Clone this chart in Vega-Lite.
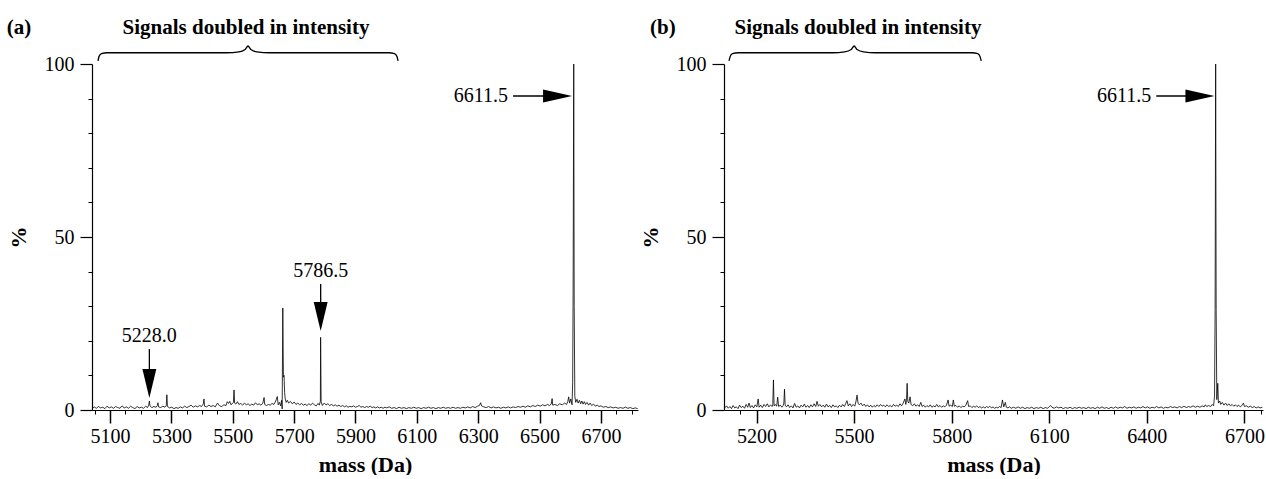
{
  "$schema": "https://vega.github.io/schema/vega-lite/v6.json",
  "padding": {"left": 6, "top": 16, "right": 0, "bottom": 0},
  "bounds": "flush",
  "spacing": 86,
  "config": {
    "font": "'Liberation Serif', 'Times New Roman', serif",
    "view": {"stroke": null},
    "text": {"font": "'Liberation Serif', 'Times New Roman', serif"},
    "axis": {"grid": false, "domainColor": "black", "tickColor": "black", "labelColor": "black", "titleColor": "black", "labelFont": "'Liberation Serif', 'Times New Roman', serif", "titleFont": "'Liberation Serif', 'Times New Roman', serif"}
  },
  "datasets": {
    "specA": [
      {"m":5041,"i":0.4},{"m":5048,"i":0.9},{"m":5055,"i":0.5},{"m":5062,"i":1.0},{"m":5069,"i":0.6},{"m":5076,"i":0.8},{"m":5083,"i":0.4},{"m":5090,"i":1.1},{"m":5097,"i":0.6},{"m":5104,"i":0.9},{"m":5111,"i":0.5},{"m":5118,"i":1.0},{"m":5125,"i":0.7},{"m":5132,"i":0.5},{"m":5139,"i":1.2},{"m":5146,"i":0.6},{"m":5153,"i":0.9},{"m":5160,"i":0.5},{"m":5167,"i":1.1},{"m":5174,"i":0.7},{"m":5181,"i":0.4},{"m":5188,"i":1.0},{"m":5195,"i":0.6},{"m":5202,"i":0.8},{"m":5209,"i":0.5},{"m":5216,"i":1.1},{"m":5222,"i":0.7},{"m":5226,"i":1.4},{"m":5228,"i":2.6},{"m":5230,"i":1.2},{"m":5236,"i":0.7},{"m":5243,"i":1.0},{"m":5250,"i":0.8},{"m":5254,"i":1.3},{"m":5256,"i":2.1},{"m":5258,"i":0.9},{"m":5265,"i":0.7},{"m":5272,"i":1.1},{"m":5279,"i":0.8},{"m":5283,"i":1.2},{"m":5285,"i":4.4},{"m":5287,"i":1.0},{"m":5294,"i":0.6},{"m":5301,"i":0.8},{"m":5308,"i":0.4},{"m":5315,"i":0.7},{"m":5322,"i":0.5},{"m":5329,"i":0.9},{"m":5336,"i":0.6},{"m":5343,"i":1.1},{"m":5350,"i":0.7},{"m":5357,"i":1.0},{"m":5364,"i":1.4},{"m":5371,"i":0.8},{"m":5378,"i":1.2},{"m":5385,"i":0.9},{"m":5392,"i":1.3},{"m":5398,"i":1.0},{"m":5404,"i":1.8},{"m":5406,"i":3.2},{"m":5408,"i":1.1},{"m":5415,"i":0.9},{"m":5422,"i":1.4},{"m":5429,"i":1.0},{"m":5436,"i":1.3},{"m":5443,"i":0.9},{"m":5450,"i":2.0},{"m":5457,"i":1.2},{"m":5464,"i":1.0},{"m":5471,"i":1.5},{"m":5478,"i":1.3},{"m":5482,"i":2.4},{"m":5486,"i":1.9},{"m":5490,"i":2.5},{"m":5494,"i":1.5},{"m":5498,"i":1.8},{"m":5502,"i":2.2},{"m":5504,"i":5.8},{"m":5506,"i":2.0},{"m":5510,"i":1.7},{"m":5515,"i":2.4},{"m":5520,"i":1.6},{"m":5526,"i":1.9},{"m":5532,"i":1.4},{"m":5538,"i":2.0},{"m":5544,"i":1.5},{"m":5550,"i":1.8},{"m":5556,"i":1.3},{"m":5562,"i":1.7},{"m":5568,"i":1.4},{"m":5574,"i":2.1},{"m":5580,"i":1.5},{"m":5586,"i":1.8},{"m":5592,"i":1.4},{"m":5598,"i":2.0},{"m":5602,"i":3.6},{"m":5604,"i":1.6},{"m":5610,"i":1.3},{"m":5616,"i":1.6},{"m":5622,"i":1.4},{"m":5628,"i":1.9},{"m":5634,"i":1.6},{"m":5640,"i":2.6},{"m":5645,"i":3.9},{"m":5648,"i":1.5},{"m":5652,"i":2.2},{"m":5656,"i":1.2},{"m":5659,"i":2.8},{"m":5661,"i":0.3},{"m":5663,"i":29.5},{"m":5665,"i":9.5},{"m":5667,"i":10.0},{"m":5669,"i":5.0},{"m":5671,"i":3.2},{"m":5674,"i":2.2},{"m":5678,"i":2.8},{"m":5682,"i":2.0},{"m":5688,"i":2.5},{"m":5694,"i":1.8},{"m":5700,"i":2.3},{"m":5706,"i":1.6},{"m":5712,"i":2.0},{"m":5718,"i":1.5},{"m":5724,"i":1.9},{"m":5730,"i":1.4},{"m":5736,"i":1.7},{"m":5742,"i":1.3},{"m":5748,"i":1.8},{"m":5754,"i":1.4},{"m":5760,"i":2.0},{"m":5766,"i":1.5},{"m":5772,"i":1.2},{"m":5778,"i":1.9},{"m":5782,"i":1.4},{"m":5785.5,"i":2.5},{"m":5786.3,"i":21.0},{"m":5786.8,"i":16.0},{"m":5788,"i":2.4},{"m":5792,"i":1.3},{"m":5798,"i":2.0},{"m":5804,"i":1.5},{"m":5810,"i":1.8},{"m":5816,"i":1.3},{"m":5822,"i":1.6},{"m":5828,"i":1.2},{"m":5834,"i":1.5},{"m":5840,"i":1.1},{"m":5846,"i":1.4},{"m":5852,"i":1.0},{"m":5858,"i":1.3},{"m":5864,"i":0.9},{"m":5870,"i":1.2},{"m":5876,"i":0.8},{"m":5882,"i":1.1},{"m":5888,"i":0.9},{"m":5894,"i":1.2},{"m":5900,"i":0.8},{"m":5906,"i":1.0},{"m":5912,"i":1.3},{"m":5918,"i":0.8},{"m":5924,"i":1.0},{"m":5930,"i":0.7},{"m":5936,"i":1.0},{"m":5942,"i":0.8},{"m":5948,"i":1.1},{"m":5954,"i":0.7},{"m":5960,"i":0.9},{"m":5966,"i":0.6},{"m":5972,"i":0.9},{"m":5978,"i":0.6},{"m":5984,"i":0.8},{"m":5990,"i":0.5},{"m":5996,"i":0.8},{"m":6002,"i":0.6},{"m":6010,"i":0.9},{"m":6018,"i":0.5},{"m":6026,"i":0.7},{"m":6034,"i":0.4},{"m":6042,"i":0.8},{"m":6050,"i":0.5},{"m":6058,"i":0.7},{"m":6066,"i":0.4},{"m":6074,"i":0.7},{"m":6082,"i":0.5},{"m":6090,"i":0.8},{"m":6098,"i":0.5},{"m":6106,"i":0.7},{"m":6114,"i":0.4},{"m":6122,"i":0.7},{"m":6130,"i":0.5},{"m":6138,"i":0.8},{"m":6146,"i":0.5},{"m":6154,"i":0.7},{"m":6162,"i":0.4},{"m":6170,"i":0.7},{"m":6178,"i":0.5},{"m":6186,"i":0.8},{"m":6194,"i":0.5},{"m":6202,"i":0.7},{"m":6210,"i":0.5},{"m":6218,"i":0.8},{"m":6226,"i":0.5},{"m":6234,"i":0.7},{"m":6242,"i":0.5},{"m":6250,"i":0.8},{"m":6258,"i":0.6},{"m":6266,"i":0.9},{"m":6274,"i":0.6},{"m":6282,"i":1.0},{"m":6290,"i":0.7},{"m":6298,"i":1.1},{"m":6304,"i":1.3},{"m":6308,"i":2.1},{"m":6311,"i":1.2},{"m":6318,"i":0.9},{"m":6326,"i":0.7},{"m":6334,"i":1.0},{"m":6342,"i":0.6},{"m":6350,"i":0.9},{"m":6358,"i":0.6},{"m":6366,"i":0.8},{"m":6374,"i":0.5},{"m":6382,"i":0.8},{"m":6390,"i":0.6},{"m":6398,"i":0.9},{"m":6406,"i":0.6},{"m":6414,"i":0.9},{"m":6422,"i":0.7},{"m":6430,"i":1.0},{"m":6438,"i":0.8},{"m":6446,"i":1.1},{"m":6454,"i":0.8},{"m":6462,"i":1.2},{"m":6470,"i":0.9},{"m":6478,"i":1.3},{"m":6486,"i":1.0},{"m":6494,"i":1.4},{"m":6502,"i":1.1},{"m":6510,"i":1.5},{"m":6518,"i":1.2},{"m":6526,"i":1.6},{"m":6532,"i":1.3},{"m":6538,"i":1.7},{"m":6541,"i":3.3},{"m":6543,"i":1.4},{"m":6550,"i":1.6},{"m":6558,"i":1.3},{"m":6566,"i":1.8},{"m":6574,"i":1.5},{"m":6582,"i":2.0},{"m":6588,"i":1.6},{"m":6592,"i":2.4},{"m":6595,"i":3.8},{"m":6598,"i":2.0},{"m":6602,"i":3.2},{"m":6606,"i":1.5},{"m":6608,"i":8.0},{"m":6609.5,"i":34.0},{"m":6611.5,"i":100},{"m":6613,"i":30.0},{"m":6615,"i":4.0},{"m":6618,"i":2.2},{"m":6622,"i":3.1},{"m":6626,"i":2.0},{"m":6630,"i":2.8},{"m":6634,"i":1.8},{"m":6638,"i":2.6},{"m":6642,"i":1.7},{"m":6646,"i":2.4},{"m":6650,"i":1.6},{"m":6655,"i":2.2},{"m":6660,"i":1.4},{"m":6665,"i":2.0},{"m":6670,"i":1.3},{"m":6676,"i":1.7},{"m":6682,"i":1.1},{"m":6688,"i":1.4},{"m":6694,"i":1.0},{"m":6700,"i":1.2},{"m":6708,"i":0.8},{"m":6716,"i":1.0},{"m":6724,"i":0.7},{"m":6732,"i":0.9},{"m":6740,"i":0.6},{"m":6748,"i":0.8},{"m":6756,"i":0.5},{"m":6764,"i":0.7},{"m":6772,"i":0.5},{"m":6780,"i":0.8},{"m":6788,"i":0.5},{"m":6796,"i":0.7},{"m":6804,"i":0.4},{"m":6812,"i":0.6},{"m":6820,"i":0.4}
    ],
    "specB": [
      {"m":5102,"i":0.6},{"m":5108,"i":1.2},{"m":5113,"i":0.5},{"m":5118,"i":1.0},{"m":5123,"i":0.4},{"m":5128,"i":1.3},{"m":5133,"i":0.6},{"m":5138,"i":0.9},{"m":5143,"i":0.4},{"m":5148,"i":1.4},{"m":5153,"i":0.7},{"m":5158,"i":1.1},{"m":5163,"i":0.5},{"m":5168,"i":1.6},{"m":5173,"i":0.8},{"m":5177,"i":2.0},{"m":5181,"i":0.7},{"m":5186,"i":1.3},{"m":5191,"i":0.6},{"m":5196,"i":1.5},{"m":5201,"i":0.9},{"m":5205,"i":3.2},{"m":5208,"i":0.8},{"m":5213,"i":1.4},{"m":5218,"i":0.7},{"m":5223,"i":1.6},{"m":5228,"i":1.0},{"m":5233,"i":1.8},{"m":5238,"i":0.9},{"m":5243,"i":1.5},{"m":5248,"i":1.0},{"m":5250,"i":1.6},{"m":5252,"i":8.7},{"m":5254,"i":1.2},{"m":5258,"i":1.6},{"m":5262,"i":1.1},{"m":5265,"i":3.7},{"m":5268,"i":1.0},{"m":5273,"i":1.4},{"m":5278,"i":0.8},{"m":5282,"i":1.3},{"m":5284,"i":2.0},{"m":5286,"i":6.0},{"m":5288,"i":1.4},{"m":5292,"i":0.9},{"m":5297,"i":1.5},{"m":5302,"i":0.7},{"m":5307,"i":1.2},{"m":5312,"i":0.6},{"m":5317,"i":1.9},{"m":5322,"i":0.8},{"m":5327,"i":1.2},{"m":5332,"i":0.6},{"m":5337,"i":1.4},{"m":5342,"i":0.9},{"m":5347,"i":1.7},{"m":5352,"i":0.8},{"m":5357,"i":1.3},{"m":5362,"i":0.7},{"m":5367,"i":1.5},{"m":5372,"i":0.9},{"m":5377,"i":1.8},{"m":5382,"i":1.0},{"m":5386,"i":2.5},{"m":5390,"i":1.1},{"m":5395,"i":1.6},{"m":5400,"i":0.9},{"m":5405,"i":1.4},{"m":5410,"i":0.8},{"m":5415,"i":1.7},{"m":5420,"i":0.9},{"m":5425,"i":1.3},{"m":5430,"i":0.7},{"m":5435,"i":1.5},{"m":5440,"i":0.9},{"m":5445,"i":1.2},{"m":5450,"i":0.7},{"m":5455,"i":1.4},{"m":5460,"i":0.9},{"m":5465,"i":1.6},{"m":5470,"i":1.0},{"m":5474,"i":1.8},{"m":5478,"i":2.7},{"m":5482,"i":1.2},{"m":5487,"i":1.8},{"m":5492,"i":1.0},{"m":5497,"i":1.6},{"m":5502,"i":1.1},{"m":5506,"i":2.6},{"m":5509,"i":4.3},{"m":5512,"i":2.0},{"m":5516,"i":1.5},{"m":5521,"i":2.0},{"m":5526,"i":1.2},{"m":5531,"i":1.7},{"m":5536,"i":1.0},{"m":5541,"i":1.5},{"m":5546,"i":0.9},{"m":5551,"i":1.4},{"m":5556,"i":0.8},{"m":5561,"i":1.3},{"m":5566,"i":0.9},{"m":5571,"i":1.5},{"m":5576,"i":1.0},{"m":5581,"i":1.6},{"m":5586,"i":1.1},{"m":5591,"i":1.4},{"m":5596,"i":0.9},{"m":5601,"i":1.5},{"m":5606,"i":1.0},{"m":5611,"i":1.3},{"m":5616,"i":0.9},{"m":5621,"i":1.6},{"m":5626,"i":1.1},{"m":5631,"i":1.4},{"m":5636,"i":1.0},{"m":5641,"i":1.8},{"m":5646,"i":1.2},{"m":5651,"i":2.0},{"m":5656,"i":3.2},{"m":5659,"i":1.6},{"m":5661,"i":2.8},{"m":5663,"i":7.7},{"m":5665,"i":2.5},{"m":5668,"i":2.0},{"m":5672,"i":3.8},{"m":5675,"i":1.6},{"m":5680,"i":1.2},{"m":5685,"i":1.8},{"m":5690,"i":1.1},{"m":5695,"i":1.5},{"m":5700,"i":1.0},{"m":5705,"i":2.2},{"m":5709,"i":1.0},{"m":5714,"i":1.4},{"m":5719,"i":0.8},{"m":5724,"i":1.3},{"m":5729,"i":0.9},{"m":5734,"i":1.5},{"m":5739,"i":0.8},{"m":5744,"i":1.2},{"m":5749,"i":0.9},{"m":5754,"i":1.6},{"m":5759,"i":0.9},{"m":5764,"i":1.3},{"m":5769,"i":0.8},{"m":5774,"i":1.2},{"m":5779,"i":0.9},{"m":5784,"i":1.4},{"m":5789,"i":2.9},{"m":5792,"i":1.1},{"m":5797,"i":1.4},{"m":5802,"i":1.0},{"m":5805,"i":2.9},{"m":5808,"i":1.1},{"m":5813,"i":1.3},{"m":5818,"i":0.8},{"m":5823,"i":1.2},{"m":5828,"i":0.7},{"m":5833,"i":1.1},{"m":5838,"i":0.9},{"m":5843,"i":1.3},{"m":5849,"i":2.7},{"m":5852,"i":1.0},{"m":5857,"i":1.2},{"m":5862,"i":0.7},{"m":5867,"i":1.1},{"m":5872,"i":0.8},{"m":5877,"i":1.2},{"m":5882,"i":0.7},{"m":5887,"i":1.0},{"m":5892,"i":0.6},{"m":5897,"i":0.9},{"m":5902,"i":0.6},{"m":5907,"i":1.0},{"m":5912,"i":0.7},{"m":5917,"i":1.1},{"m":5922,"i":0.6},{"m":5927,"i":0.9},{"m":5932,"i":0.5},{"m":5937,"i":0.8},{"m":5942,"i":0.6},{"m":5947,"i":1.0},{"m":5952,"i":0.7},{"m":5956,"i":2.9},{"m":5960,"i":0.9},{"m":5965,"i":2.2},{"m":5968,"i":0.8},{"m":5973,"i":0.6},{"m":5978,"i":0.9},{"m":5983,"i":0.5},{"m":5990,"i":0.8},{"m":5997,"i":0.5},{"m":6004,"i":0.9},{"m":6011,"i":0.5},{"m":6018,"i":0.8},{"m":6025,"i":0.4},{"m":6032,"i":0.7},{"m":6039,"i":0.5},{"m":6046,"i":0.8},{"m":6053,"i":0.4},{"m":6060,"i":0.7},{"m":6067,"i":0.5},{"m":6074,"i":0.8},{"m":6081,"i":0.4},{"m":6088,"i":0.7},{"m":6095,"i":0.5},{"m":6100,"i":1.0},{"m":6104,"i":1.3},{"m":6108,"i":0.8},{"m":6115,"i":0.5},{"m":6122,"i":0.9},{"m":6129,"i":0.6},{"m":6136,"i":0.8},{"m":6143,"i":0.4},{"m":6150,"i":0.7},{"m":6157,"i":0.5},{"m":6164,"i":0.8},{"m":6171,"i":0.4},{"m":6178,"i":0.7},{"m":6185,"i":0.5},{"m":6192,"i":0.8},{"m":6199,"i":0.5},{"m":6206,"i":0.7},{"m":6213,"i":0.4},{"m":6220,"i":0.8},{"m":6227,"i":0.5},{"m":6234,"i":0.7},{"m":6241,"i":0.4},{"m":6248,"i":0.8},{"m":6255,"i":0.5},{"m":6262,"i":0.9},{"m":6269,"i":0.5},{"m":6276,"i":0.7},{"m":6283,"i":0.4},{"m":6290,"i":0.8},{"m":6297,"i":0.5},{"m":6304,"i":0.9},{"m":6311,"i":0.5},{"m":6318,"i":0.8},{"m":6325,"i":0.6},{"m":6332,"i":1.0},{"m":6339,"i":0.5},{"m":6346,"i":0.8},{"m":6353,"i":0.6},{"m":6360,"i":0.9},{"m":6367,"i":0.5},{"m":6374,"i":0.8},{"m":6381,"i":0.6},{"m":6388,"i":1.0},{"m":6395,"i":0.6},{"m":6402,"i":0.9},{"m":6409,"i":0.5},{"m":6416,"i":0.8},{"m":6423,"i":0.6},{"m":6430,"i":1.0},{"m":6437,"i":0.6},{"m":6444,"i":0.9},{"m":6451,"i":0.5},{"m":6458,"i":0.8},{"m":6465,"i":0.6},{"m":6472,"i":1.0},{"m":6479,"i":0.7},{"m":6486,"i":0.9},{"m":6493,"i":0.6},{"m":6500,"i":1.0},{"m":6507,"i":0.7},{"m":6514,"i":1.1},{"m":6521,"i":0.7},{"m":6528,"i":1.0},{"m":6535,"i":0.8},{"m":6542,"i":1.2},{"m":6549,"i":0.8},{"m":6556,"i":1.1},{"m":6563,"i":0.8},{"m":6570,"i":1.2},{"m":6576,"i":0.9},{"m":6580,"i":1.5},{"m":6584,"i":1.0},{"m":6590,"i":1.3},{"m":6596,"i":1.0},{"m":6601,"i":1.6},{"m":6605,"i":1.2},{"m":6608,"i":4.0},{"m":6609.8,"i":29.0},{"m":6611.5,"i":100},{"m":6613,"i":29.0},{"m":6615,"i":3.0},{"m":6618,"i":7.7},{"m":6620,"i":2.0},{"m":6624,"i":2.6},{"m":6627,"i":1.6},{"m":6632,"i":2.2},{"m":6637,"i":1.4},{"m":6642,"i":2.0},{"m":6647,"i":1.3},{"m":6652,"i":1.8},{"m":6657,"i":1.2},{"m":6662,"i":1.6},{"m":6667,"i":1.1},{"m":6672,"i":1.5},{"m":6677,"i":1.0},{"m":6682,"i":1.4},{"m":6687,"i":0.9},{"m":6692,"i":1.3},{"m":6697,"i":2.0},{"m":6700,"i":1.0},{"m":6706,"i":1.2},{"m":6712,"i":0.8},{"m":6718,"i":1.1},{"m":6724,"i":0.7},{"m":6730,"i":1.0},{"m":6736,"i":0.6},{"m":6742,"i":0.9},{"m":6748,"i":0.6},{"m":6755,"i":0.8}
    ],
    "braceA": [
      {"m":5060.6,"i":100.9},{"m":5064,"i":102.2},{"m":5072,"i":103.0},{"m":5090,"i":103.25},{"m":5480,"i":103.25},{"m":5520,"i":103.5},{"m":5540,"i":104.2},{"m":5549.6,"i":105.2},{"m":5559,"i":104.2},{"m":5579,"i":103.5},{"m":5619,"i":103.25},{"m":6009,"i":103.25},{"m":6027,"i":103.0},{"m":6035,"i":102.2},{"m":6038.7,"i":100.9}
    ],
    "braceB": [
      {"m":5115.4,"i":100.9},{"m":5119,"i":102.2},{"m":5126,"i":103.0},{"m":5144,"i":103.25},{"m":5434,"i":103.25},{"m":5471,"i":103.5},{"m":5491,"i":104.2},{"m":5500,"i":105.2},{"m":5509,"i":104.2},{"m":5529,"i":103.5},{"m":5566,"i":103.25},{"m":5862,"i":103.25},{"m":5880,"i":103.0},{"m":5887,"i":102.2},{"m":5890.8,"i":100.9}
    ],
    "headA": [
      {"text":"(a)","m":4803,"i":108.7},
      {"text":"Signals doubled in intensity","m":5543,"i":108.7}
    ],
    "headB": [
      {"text":"(b)","m":4912,"i":108.7},
      {"text":"Signals doubled in intensity","m":5512,"i":108.7}
    ],
    "hArrowA": [
      {"label":"6611.5","mFrom":6413.7,"mTo":6590,"mTip":6606,"i":90.75}
    ],
    "hArrowB": [
      {"label":"6611.5","mFrom":6429,"mTo":6590,"mTip":6607.7,"i":90.75}
    ],
    "vArrowA": [
      {"label":"5786.5","m":5786.5,"iFrom":36.4,"iTo":30,"iTip":22.8,"iLabel":40.2},
      {"label":"5228.0","m":5228,"iFrom":17.6,"iTo":11,"iTip":3.5,"iLabel":21.4}
    ]
  },
  "hconcat": [
    {
      "width": 546,
      "height": 346,
      "resolve": {"axis": {"x": "independent", "y": "independent"}},
      "layer": [
        {
          "data": {"name": "specA"},
          "mark": {"type": "line", "color": "black", "strokeWidth": 0.8},
          "encoding": {
            "x": {"field": "m", "type": "quantitative", "scale": {"domain": [5041, 6821], "nice": false, "zero": false},
              "axis": {"orient": "bottom", "values": [5100,5300,5500,5700,5900,6100,6300,6500,6700], "tickSize": 13, "tickWidth": 1.5, "domainWidth": 1.2, "labelFontSize": 20, "labelPadding": 3, "labelFlush": false, "labelOverlap": false, "format": "d", "title": "mass (Da)", "titleFontSize": 22, "titleFontWeight": "bold", "titlePadding": 8}},
            "y": {"field": "i", "type": "quantitative", "scale": {"domain": [0, 100], "nice": false},
              "axis": {"orient": "left", "values": [0,50,100], "tickSize": 12, "tickWidth": 1.2, "domainWidth": 1.2, "labelFontSize": 20, "labelPadding": 6, "labelFlush": false, "title": "%", "titleFontSize": 22, "titleFontWeight": "bold", "titlePadding": 14}}
          }
        },
        {
          "data": {"name": "braceA"},
          "mark": {"type": "line", "color": "black", "strokeWidth": 1.3, "interpolate": "monotone", "clip": false},
          "encoding": {
            "x": {"field": "m", "type": "quantitative",
              "axis": {"orient": "bottom", "values": [5050,5100,5150,5200,5250,5300,5350,5400,5450,5500,5550,5600,5650,5700,5750,5800,5850,5900,5950,6000,6050,6100,6150,6200,6250,6300,6350,6400,6450,6500,6550,6600,6650,6700,6750,6800], "tickSize": 4, "tickWidth": 1, "labels": false, "domain": false, "title": null}},
            "y": {"field": "i", "type": "quantitative",
              "axis": {"orient": "left", "values": [10,20,30,40,60,70,80,90], "tickSize": 4, "tickWidth": 1, "labels": false, "domain": false, "title": null}}
          }
        },
        {
          "data": {"name": "headA"},
          "mark": {"type": "text", "fontSize": 21, "fontWeight": "bold", "align": "center", "baseline": "alphabetic", "color": "black"},
          "encoding": {
            "x": {"field": "m", "type": "quantitative", "axis": null},
            "y": {"field": "i", "type": "quantitative", "axis": null},
            "text": {"field": "text"}
          }
        },
        {
          "data": {"name": "hArrowA"},
          "mark": {"type": "rule", "color": "black", "strokeWidth": 1.3},
          "encoding": {
            "x": {"field": "mFrom", "type": "quantitative", "axis": null},
            "x2": {"field": "mTo"},
            "y": {"field": "i", "type": "quantitative", "axis": null}
          }
        },
        {
          "data": {"name": "hArrowA"},
          "mark": {"type": "point", "filled": true, "color": "black", "opacity": 1, "shape": "M-2,-0.45L0,0L-2,0.45Z", "size": 841},
          "encoding": {
            "x": {"field": "mTip", "type": "quantitative", "axis": null},
            "y": {"field": "i", "type": "quantitative", "axis": null}
          }
        },
        {
          "data": {"name": "hArrowA"},
          "mark": {"type": "text", "fontSize": 20, "align": "right", "baseline": "middle", "dx": -5, "color": "black"},
          "encoding": {
            "x": {"field": "mFrom", "type": "quantitative", "axis": null},
            "y": {"field": "i", "type": "quantitative", "axis": null},
            "text": {"field": "label"}
          }
        },
        {
          "data": {"name": "vArrowA"},
          "mark": {"type": "rule", "color": "black", "strokeWidth": 1.3},
          "encoding": {
            "x": {"field": "m", "type": "quantitative", "axis": null},
            "y": {"field": "iFrom", "type": "quantitative", "axis": null},
            "y2": {"field": "iTo"}
          }
        },
        {
          "data": {"name": "vArrowA"},
          "mark": {"type": "point", "filled": true, "color": "black", "opacity": 1, "shape": "M-0.48,-2L0,0L0.48,-2Z", "size": 841},
          "encoding": {
            "x": {"field": "m", "type": "quantitative", "axis": null},
            "y": {"field": "iTip", "type": "quantitative", "axis": null}
          }
        },
        {
          "data": {"name": "vArrowA"},
          "mark": {"type": "text", "fontSize": 20, "align": "center", "baseline": "middle", "color": "black"},
          "encoding": {
            "x": {"field": "m", "type": "quantitative", "axis": null},
            "y": {"field": "iLabel", "type": "quantitative", "axis": null},
            "text": {"field": "label"}
          }
        }
      ]
    },
    {
      "width": 539,
      "height": 346,
      "resolve": {"axis": {"x": "independent", "y": "independent"}},
      "layer": [
        {
          "data": {"name": "specB"},
          "mark": {"type": "line", "color": "black", "strokeWidth": 0.8},
          "encoding": {
            "x": {"field": "m", "type": "quantitative", "scale": {"domain": [5100, 6757], "nice": false, "zero": false},
              "axis": {"orient": "bottom", "values": [5200,5500,5800,6100,6400,6700], "tickSize": 13, "tickWidth": 1.5, "domainWidth": 1.2, "labelFontSize": 20, "labelPadding": 3, "labelFlush": false, "labelOverlap": false, "format": "d", "title": "mass (Da)", "titleFontSize": 22, "titleFontWeight": "bold", "titlePadding": 8}},
            "y": {"field": "i", "type": "quantitative", "scale": {"domain": [0, 100], "nice": false},
              "axis": {"orient": "left", "values": [0,50,100], "tickSize": 12, "tickWidth": 1.2, "domainWidth": 1.2, "labelFontSize": 20, "labelPadding": 6, "labelFlush": false, "title": "%", "titleFontSize": 22, "titleFontWeight": "bold", "titlePadding": 14}}
          }
        },
        {
          "data": {"name": "braceB"},
          "mark": {"type": "line", "color": "black", "strokeWidth": 1.3, "interpolate": "monotone", "clip": false},
          "encoding": {
            "x": {"field": "m", "type": "quantitative",
              "axis": {"orient": "bottom", "values": [5150,5200,5250,5300,5350,5400,5450,5500,5550,5600,5650,5700,5750,5800,5850,5900,5950,6000,6050,6100,6150,6200,6250,6300,6350,6400,6450,6500,6550,6600,6650,6700,6750], "tickSize": 4, "tickWidth": 1, "labels": false, "domain": false, "title": null}},
            "y": {"field": "i", "type": "quantitative",
              "axis": {"orient": "left", "values": [10,20,30,40,60,70,80,90], "tickSize": 4, "tickWidth": 1, "labels": false, "domain": false, "title": null}}
          }
        },
        {
          "data": {"name": "headB"},
          "mark": {"type": "text", "fontSize": 21, "fontWeight": "bold", "align": "center", "baseline": "alphabetic", "color": "black"},
          "encoding": {
            "x": {"field": "m", "type": "quantitative", "axis": null},
            "y": {"field": "i", "type": "quantitative", "axis": null},
            "text": {"field": "text"}
          }
        },
        {
          "data": {"name": "hArrowB"},
          "mark": {"type": "rule", "color": "black", "strokeWidth": 1.3},
          "encoding": {
            "x": {"field": "mFrom", "type": "quantitative", "axis": null},
            "x2": {"field": "mTo"},
            "y": {"field": "i", "type": "quantitative", "axis": null}
          }
        },
        {
          "data": {"name": "hArrowB"},
          "mark": {"type": "point", "filled": true, "color": "black", "opacity": 1, "shape": "M-2,-0.45L0,0L-2,0.45Z", "size": 841},
          "encoding": {
            "x": {"field": "mTip", "type": "quantitative", "axis": null},
            "y": {"field": "i", "type": "quantitative", "axis": null}
          }
        },
        {
          "data": {"name": "hArrowB"},
          "mark": {"type": "text", "fontSize": 20, "align": "right", "baseline": "middle", "dx": -5, "color": "black"},
          "encoding": {
            "x": {"field": "mFrom", "type": "quantitative", "axis": null},
            "y": {"field": "i", "type": "quantitative", "axis": null},
            "text": {"field": "label"}
          }
        }
      ]
    }
  ]
}
